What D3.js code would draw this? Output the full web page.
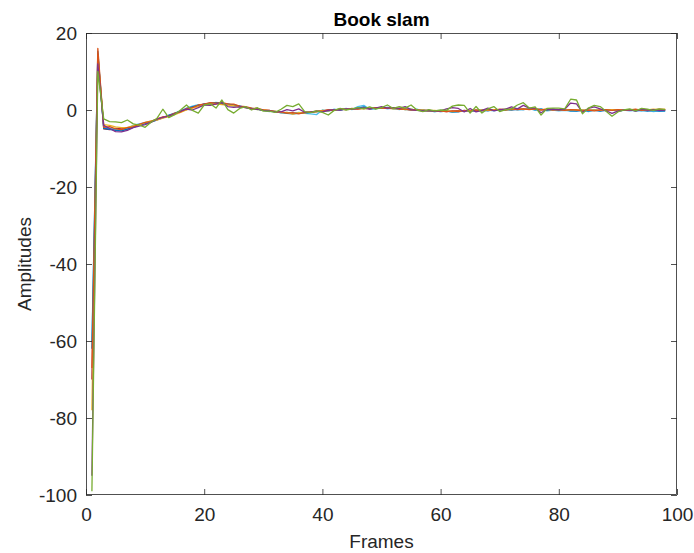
<!DOCTYPE html>
<html>
<head>
<meta charset="utf-8">
<script src="https://cdn.jsdelivr.net/npm/d3@7"></script>
<style>
  html, body { margin: 0; padding: 0; background: #fff; }
  svg { display: block; font-family: "Liberation Sans", Arial, Helvetica, sans-serif; }
</style>
</head>
<body>
<svg id="chart" width="694" height="553"></svg>
<script>
// Amplitude of each frame, one array per recording (frames 1..98)
const seriesBlue = [
  -62, 15.2, -4.8, -5.0, -5.3, -5.4, -5.0, -4.5, -4.0, -3.5,
  -3.1, -2.6, -2.0, -1.4, -0.9, -0.3, 0.3, 0.8, 1.2, 1.5,
  1.8, 1.9, 1.7, 1.5, 1.3, 1.0, 0.7, 0.4, 0.2, -0.1,
  -0.3, -0.5, -0.6, -0.9, -1.0, -0.9, -0.8, -0.6, -0.4, -0.3,
  -0.2, 0.1, 0.0, 0.3, 0.2, 0.5, 0.8, 0.3, 0.6, 0.4,
  0.7, 0.3, 0.4, 0.1, 0.2, -0.1, 0.0, -0.3, -0.2, -0.4,
  -0.3, -0.5, -0.4, -0.3, -0.1, -0.3, 0.0, -0.2, 0.1, 0.0,
  0.2, 0.0, 0.3, 0.1, 0.3, 0.1, 0.2, -0.1, 0.2, -0.1,
  0.1, -0.2, -0.3, -0.1, -0.2, 0.0, -0.3, -0.1, 0.1, -0.2,
  -0.1, 0.1, -0.2, 0.0, -0.3, -0.1, -0.3, -0.2
];
const seriesOrange = [
  -67, 16.0, -4.5, -4.3, -4.9, -5.1, -4.6, -4.4, -3.7, -3.2,
  -3.0, -2.3, -1.8, -1.6, -0.8, -0.5, 0.4, 0.6, 1.3, 1.5,
  1.9, 1.8, 1.9, 1.6, 1.5, 1.0, 0.9, 0.5, 0.4, 0.0,
  -0.1, -0.5, -0.5, -0.8, -0.7, -1.0, -0.6, -0.6, -0.3, -0.3,
  0.0, -0.1, 0.2, 0.1, 0.4, 0.2, 0.5, 0.3, 0.6, 0.5,
  0.4, 0.6, 0.2, 0.3, 0.0, 0.1, -0.2, -0.1, -0.3, -0.2,
  -0.4, -0.2, -0.4, -0.1, -0.3, 0.0, -0.2, 0.1, -0.1, 0.2,
  0.0, 0.3, 0.1, 0.3, 0.1, 0.3, 0.0, 0.2, 0.0, 0.1,
  -0.1, 0.1, 0.0, -0.2, 0.0, -0.2, 0.0, 0.1, -0.1, 0.1,
  -0.1, 0.0, 0.2, -0.1, 0.1, 0.0, 0.2, 0.1
];
const seriesYellow = [
  -78, 14.0, -3.8, -4.0, -4.4, -4.6, -4.5, -4.1, -3.9, -3.3,
  -2.8, -2.6, -2.1, -1.7, -1.2, -0.6, 0.0, 0.5, 0.9, 1.3,
  1.5, 1.6, 1.4, 1.3, 1.1, 0.8, 0.6, 0.4, 0.1, 0.1,
  -0.2, -0.3, -0.7, -0.6, -1.1, -0.7, -0.8, -0.4, -0.5, -0.1,
  -0.2, 0.1, 0.1, 0.3, 0.2, 0.4, 0.3, 0.5, 0.4, 0.6,
  0.5, 0.3, 0.4, 0.1, 0.2, -0.1, 0.0, -0.2, -0.1, -0.3,
  -0.2, -0.4, -0.3, -0.2, -0.1, -0.1, 0.0, -0.1, 0.1, 0.1,
  0.2, 0.1, 0.3, 0.2, 0.2, 0.3, 0.1, 0.2, 0.1, 0.1,
  0.0, 0.1, 0.0, 0.0, -0.1, 0.0, -0.1, 0.0, 0.1, 0.0,
  0.1, 0.1, 0.0, 0.1, 0.0, 0.2, 0.1, 0.2
];
const seriesPurple = [
  -95, 12.0, -4.0, -4.8, -5.6, -5.7, -5.3, -4.6, -4.2, -3.8,
  -3.2, -2.4, -1.9, -1.6, -1.0, -0.3, 0.2, 0.0, 0.6, 1.3,
  1.2, 1.5, 2.0, 0.9, 0.7, 0.8, 0.6, 0.3, 0.2, -0.1,
  -0.2, -0.4, -0.5, 0.1, -0.2, 0.3, -0.6, -0.5, -0.3, -0.5,
  -0.1, 0.1, 0.0, 0.3, 0.2, 0.4, 0.4, 0.3, 0.5, 0.9,
  0.5, 0.6, 0.4, 0.9, 0.1, -0.1, -0.2, -0.1, -0.3, -0.2,
  0.3, 0.6, 0.4, -0.5, 0.4, -0.5, -0.1, 0.5, -0.2, 0.1,
  0.2, 0.8, 0.3, 1.2, 0.5, 0.5, -0.7, 0.2, 0.2, 0.1,
  0.2, 1.8, 1.6, -0.6, 0.4, 0.8, 0.3, -0.2, -0.9, -0.3,
  0.0, 0.1, -0.3, 0.2, 0.0, 0.1, -0.1, 0.0
];
const seriesGreen = [
  -99, 10.0, -2.3, -3.0, -3.1, -3.3, -2.6, -3.6, -3.9, -4.5,
  -3.2, -2.2, 0.2, -2.0, -1.2, 0.0, 1.3, -0.1, -0.8, 1.3,
  1.6, 0.5, 2.6, 0.1, -0.8, 0.4, 0.9, 0.0, 0.6, -0.3,
  -0.3, -0.6, 0.2, 1.2, 0.9, 1.6, -0.4, -0.7, -0.2, -0.6,
  -1.3, -0.1, 0.4, 0.0, 0.3, 0.6, 0.3, 0.8, 0.2, 0.6,
  1.3, 0.4, 0.9, 0.5, 1.3, 0.0, -0.4, 0.1, -0.2, 0.0,
  -0.1, 1.0, 1.3, 1.2, -0.8, 0.9, -0.8, 0.3, 0.9, -0.4,
  0.1, 0.3, 1.3, 1.9, 0.5, 0.8, -1.3, 0.4, 0.5, 0.5,
  0.3, 2.8, 2.6, -1.0, 0.5, 1.2, 0.9, -0.3, -1.6, -0.5,
  0.0, 0.3, -0.2, 0.4, 0.2, -0.1, 0.3, 0.1
];
const seriesCyan = [
  -60, 13.0, -4.6, -4.7, -5.0, -5.2, -4.7, -4.0, -3.6, -3.3,
  -2.9, -2.4, -2.1, -1.3, -0.8, -0.2, 0.5, 1.0, 1.4, 1.2,
  1.7, 2.0, 1.8, 1.4, 1.0, 1.1, 0.6, 0.5, 0.1, 0.0,
  -0.4, -0.3, -0.8, -0.6, -0.9, -0.6, -0.9, -1.0, -1.2, 0.0,
  -0.3, 0.2, -0.1, 0.4, 0.1, 0.9, 1.2, 0.2, 0.3, 0.7,
  0.3, 0.5, 0.1, 0.4, -0.1, 0.2, -0.3, -0.1, -0.5, -0.1,
  -0.2, -0.6, -0.5, -0.1, -0.4, 0.0, -0.3, 0.0, -0.2, 0.1,
  -0.1, 0.2, 0.0, 0.1, 0.4, -0.1, 0.3, -0.2, 0.0, -0.2,
  -0.1, -0.3, -0.2, 0.0, -0.4, -0.1, -0.2, 0.1, 0.0, -0.3,
  0.0, -0.2, -0.1, -0.3, -0.1, -0.4, -0.2, -0.3
];
const seriesDarkRed = [
  -70, 14.5, -4.9, -5.1, -4.8, -4.9, -4.9, -4.2, -3.8, -3.5,
  -3.0, -2.5, -1.9, -1.5, -1.0, -0.4, 0.1, 0.8, 1.1, 1.6,
  1.6, 1.8, 1.5, 1.5, 1.2, 0.9, 0.7, 0.3, 0.3, -0.1,
  -0.1, -0.4, -0.6, -0.7, -0.8, -0.9, -0.6, -0.6, -0.4, -0.2,
  0.0, 0.0, 0.2, 0.2, 0.3, 0.3, 0.5, 0.4, 0.4, 0.6,
  0.4, 0.4, 0.3, 0.2, 0.0, 0.0, -0.1, -0.2, -0.2, -0.3,
  -0.4, -0.3, -0.2, -0.2, -0.2, -0.1, -0.1, 0.0, 0.0, 0.1,
  0.1, 0.1, 0.2, 0.3, 0.2, 0.2, 0.1, 0.1, 0.1, 0.0,
  0.1, 0.0, -0.1, -0.1, -0.1, -0.1, -0.1, 0.0, 0.0, 0.1,
  0.0, -0.1, 0.0, 0.1, 0.0, 0.0, 0.0, 0.0
];

// Drawing order: the smoother recordings first, the spiky ones on top
const seriesList = [seriesDarkRed, seriesCyan, seriesBlue, seriesYellow, seriesOrange, seriesPurple, seriesGreen];
const seriesColors = ["#A2142F", "#4DBEEE", "#0072BD", "#EDB120", "#D95319", "#7E2F8E", "#77AC30"];
const xTicks = [0, 20, 40, 60, 80, 100];
const yTicks = [-100, -80, -60, -40, -20, 0, 20];
const titleText = "Book slam";
const xLabelText = "Frames";
const yLabelText = "Amplitudes";

const svg = d3.select("#chart");
const plotLeft = 86, plotRight = 677, plotTop = 33, plotBottom = 495;
const axisColor = "#262626";
const fontPx = 19;

const x = d3.scaleLinear().domain([0, 100]).range([plotLeft, plotRight]);
const y = d3.scaleLinear().domain([-100, 20]).range([plotBottom, plotTop]);

svg.append("clipPath").attr("id", "clip")
  .append("rect").attr("x", plotLeft).attr("y", plotTop)
  .attr("width", plotRight - plotLeft).attr("height", plotBottom - plotTop);

const line = d3.line().x((d, i) => x(i + 1)).y(d => y(d));
const lines = svg.append("g").attr("clip-path", "url(#clip)");
seriesList.forEach((s, k) => {
  lines.append("path")
    .datum(s)
    .attr("d", line)
    .attr("fill", "none")
    .attr("stroke", seriesColors[k])
    .attr("stroke-width", 1.3)
    .attr("stroke-linejoin", "round");
});

// Boxed axes with inward ticks on all four sides
const tickLen = 6;
const plainNumber = d => String(d);
const styleAxis = g => {
  g.select(".domain").remove();
  g.selectAll(".tick line").attr("stroke", axisColor).attr("stroke-width", 0.8);
  g.selectAll(".tick text").attr("fill", axisColor).style("font-size", fontPx + "px");
};
svg.append("g").attr("transform", `translate(0,${plotBottom})`)
  .call(d3.axisBottom(x).tickValues(xTicks).tickSizeInner(-tickLen).tickSizeOuter(0).tickPadding(13).tickFormat(plainNumber))
  .call(styleAxis);
svg.append("g").attr("transform", `translate(0,${plotTop})`)
  .call(d3.axisTop(x).tickValues(xTicks).tickSizeInner(-tickLen).tickSizeOuter(0).tickFormat(""))
  .call(styleAxis);
svg.append("g").attr("transform", `translate(${plotLeft},0)`)
  .call(d3.axisLeft(y).tickValues(yTicks).tickSizeInner(-tickLen).tickSizeOuter(0).tickPadding(9).tickFormat(plainNumber))
  .call(styleAxis);
svg.append("g").attr("transform", `translate(${plotRight},0)`)
  .call(d3.axisRight(y).tickValues(yTicks).tickSizeInner(-tickLen).tickSizeOuter(0).tickFormat(""))
  .call(styleAxis);

svg.append("rect")
  .attr("x", plotLeft + 0.5).attr("y", plotTop + 0.5)
  .attr("width", plotRight - plotLeft - 1).attr("height", plotBottom - plotTop - 1)
  .attr("fill", "none").attr("stroke", axisColor).attr("stroke-width", 0.8);

svg.append("text")
  .attr("x", (plotLeft + plotRight) / 2).attr("y", 26)
  .attr("text-anchor", "middle")
  .attr("font-weight", "bold").attr("font-size", fontPx + "px").attr("fill", "#000")
  .text(titleText);
svg.append("text")
  .attr("x", (plotLeft + plotRight) / 2).attr("y", 548)
  .attr("text-anchor", "middle")
  .attr("font-size", fontPx + "px").attr("fill", axisColor)
  .text(xLabelText);
svg.append("text")
  .attr("transform", `translate(31,${(plotTop + plotBottom) / 2}) rotate(-90)`)
  .attr("text-anchor", "middle")
  .attr("font-size", fontPx + "px").attr("fill", axisColor)
  .text(yLabelText);
</script>
</body>
</html>
